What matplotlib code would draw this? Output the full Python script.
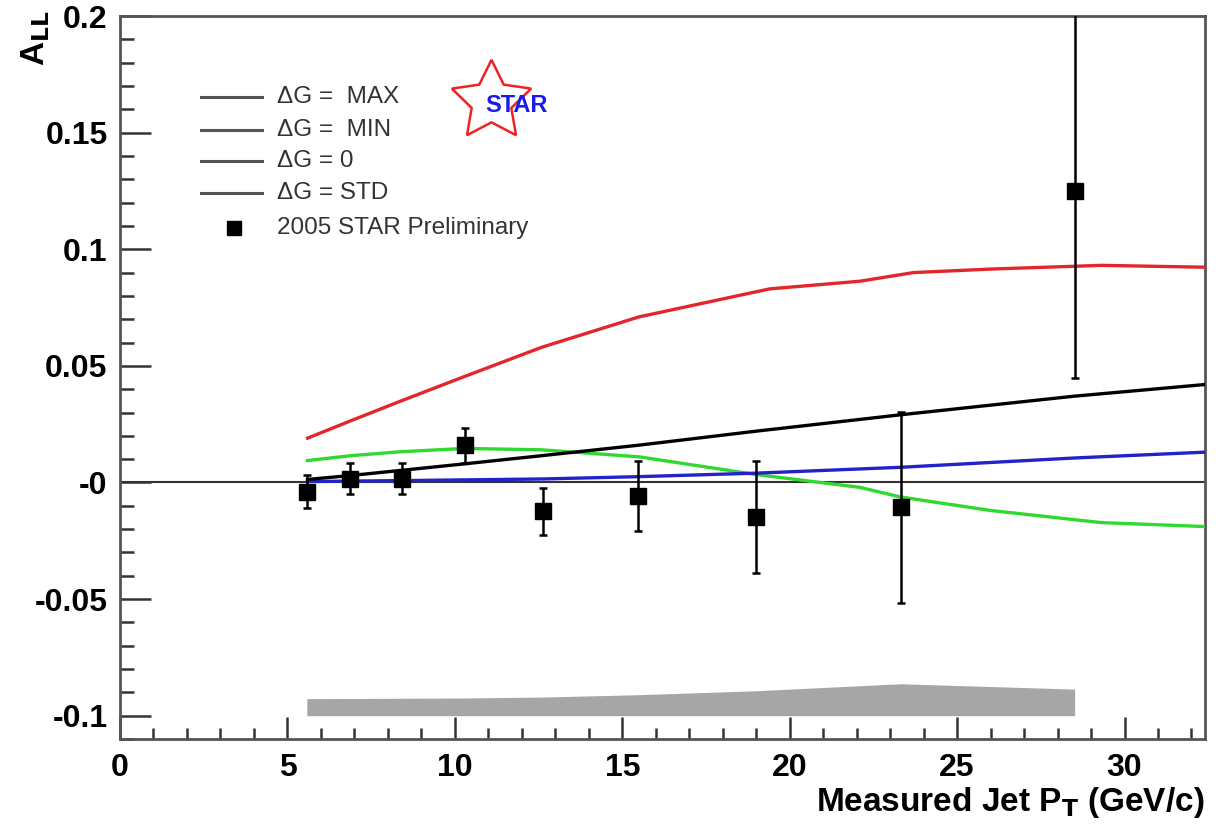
import numpy as np
import matplotlib
matplotlib.use('Agg')
import matplotlib.pyplot as plt
from matplotlib.ticker import MultipleLocator

plt.rcParams['font.family'] = ['Liberation Sans', 'DejaVu Sans']

# measured points
pt = [5.58, 6.87, 8.42, 10.30, 12.63, 15.46, 18.99, 23.31, 28.51]
all_vals = [-0.0039, 0.0017, 0.0017, 0.0159, -0.0124, -0.0056, -0.0146, -0.0107, 0.1249]
all_err = [0.0070, 0.0066, 0.0068, 0.0075, 0.0100, 0.0150, 0.0240, 0.0410, 0.0803]

# systematic band (top edge, bottom at -0.1)
sys_x = [5.58, 10.30, 12.63, 15.46, 18.99, 23.31, 28.51]
sys_top = [-0.0927, -0.0924, -0.0920, -0.0910, -0.0893, -0.0863, -0.0886]
sys_bot = -0.1

# theory curves
max_x = [5.6, 6.9, 8.4, 10.3, 12.6, 15.5, 19.4, 22.1, 23.7, 26.0, 28.5, 29.3, 32.4]
max_y = [0.019, 0.0265, 0.035, 0.0455, 0.058, 0.071, 0.083, 0.0863, 0.0900, 0.0915, 0.0927, 0.0931, 0.0923]
min_x = [5.6, 6.9, 8.4, 10.3, 12.6, 15.5, 19.0, 22.1, 23.3, 26.0, 29.3, 32.4]
min_y = [0.0094, 0.0115, 0.0132, 0.0146, 0.0140, 0.0110, 0.0034, -0.0021, -0.0062, -0.0120, -0.0172, -0.0189]
zero_x = [5.6, 8.4, 12.6, 15.5, 19.0, 23.3, 28.5, 32.4]
zero_y = [0.0004, 0.0008, 0.0015, 0.0025, 0.0040, 0.0065, 0.0105, 0.0130]
std_x = [5.6, 6.9, 8.4, 10.3, 12.6, 15.5, 19.0, 23.3, 28.5, 32.4]
std_y = [0.0013, 0.0030, 0.0052, 0.0080, 0.0115, 0.0160, 0.0220, 0.0290, 0.0370, 0.0420]

ytick_vals = [-0.1, -0.05, 0, 0.05, 0.1, 0.15, 0.2]
ytick_labels = ['-0.1', '-0.05', '-0', '0.05', '0.1', '0.15', '0.2']

fig = plt.figure(figsize=(12.22, 8.3), dpi=100)
ax = fig.add_axes([0.0982, 0.1096, 0.8878, 0.8711])

ax.fill_between(sys_x, sys_bot, sys_top, color='#a6a6a6', lw=0, zorder=1)
ax.axhline(0, color='#333333', lw=1.5, zorder=2)

ax.plot(max_x, max_y, color='#e3262b', lw=2.4, zorder=3)
ax.plot(min_x, min_y, color='#2fd92f', lw=2.4, zorder=3)
ax.plot(zero_x, zero_y, color='#2222c8', lw=2.4, zorder=3)
ax.plot(std_x, std_y, color='black', lw=2.4, zorder=3)

ax.errorbar(pt, all_vals, yerr=all_err, fmt='s', color='black', ms=11,
            elinewidth=1.8, capsize=3, capthick=1.8, zorder=5)

ax.set_xlim(0, 32.4)
ax.set_ylim(-0.11, 0.2)

ax.xaxis.set_major_locator(MultipleLocator(5))
ax.xaxis.set_minor_locator(MultipleLocator(1))
ax.yaxis.set_minor_locator(MultipleLocator(0.01))
ax.set_yticks(ytick_vals)
ax.set_yticklabels(ytick_labels)

ax.tick_params(axis='both', which='both', direction='in', color='#333333', width=1.8)
ax.tick_params(axis='x', which='major', length=16, labelsize=23, pad=10)
ax.tick_params(axis='x', which='minor', length=8)
ax.tick_params(axis='y', which='major', length=22, labelsize=23, pad=9)
ax.tick_params(axis='y', which='minor', length=10)
for lab in ax.get_xticklabels() + ax.get_yticklabels():
    lab.set_fontweight('bold')
for sp in ax.spines.values():
    sp.set_color('#555555')
    sp.set_linewidth(2)

fig.text(0.986, 0.012, r'Measured Jet P$_\mathbf{T}$ (GeV/c)', ha='right', va='bottom',
         fontsize=24, fontweight='bold')
fig.text(0.016, 0.988, r'A$_\mathbf{LL}$', rotation=90, ha='left', va='top',
         fontsize=24, fontweight='bold')

# legend drawn by hand in axes coordinates
leg_labels = ['\u0394G =  MAX', '\u0394G =  MIN', '\u0394G = 0', '\u0394G = STD']
leg_y = [0.888, 0.843, 0.799, 0.755]
for lbl, yy in zip(leg_labels, leg_y):
    ax.plot([0.075, 0.131], [yy, yy], transform=ax.transAxes, color='#555555', lw=2.2)
    ax.text(0.145, yy, lbl, transform=ax.transAxes, va='center', fontsize=17.5, color='#333333')
ax.plot([0.105], [0.707], transform=ax.transAxes, marker='s', color='black', ms=10)
ax.text(0.145, 0.707, '2005 STAR Preliminary', transform=ax.transAxes, va='center',
        fontsize=17.5, color='#333333')

# STAR logo
ax.plot([0.342], [0.882], transform=ax.transAxes, marker=(5, 1, 0), ms=60,
        markerfacecolor='none', markeredgecolor='#ee2222', markeredgewidth=1.8)
ax.text(0.337, 0.876, 'STAR', transform=ax.transAxes, va='center', ha='left',
        fontsize=17, fontweight='bold', color='#1a1aee')

fig.savefig('out.png', dpi=100)
